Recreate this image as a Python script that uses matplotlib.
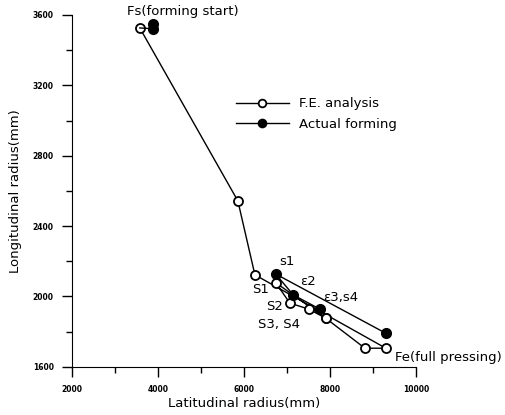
import matplotlib.pyplot as plt
from matplotlib.ticker import MultipleLocator

# F.E. analysis path (open circles)
fe_x = [3580, 5860, 6256, 9300, 8814, 7900, 6737, 7070, 7512, 7900]
fe_y = [3526, 2543, 2123, 1706, 1706, 1877, 2079, 1962, 1928, 1877]

# Actual forming path (filled circles)
act_x = [9300, 6737, 7147, 7767]
act_y = [1791, 2128, 2009, 1928]
# start points of the actual forming
act_start_x = [3880, 3880]
act_start_y = [3548, 3522]

labels = ["Fs(forming start)", "s1", "S1", "ɛ2", "S2", "ɛ3,s4", "S3, S4", "Fe(full pressing)"]
label_x = [4580, 6814, 6186, 7302, 6510, 7837, 6325, 9512]
label_y = [3617, 2197, 2037, 2083, 1941, 1992, 1839, 1655]

fig = plt.figure(figsize=(5.06, 4.15), dpi=100)
ax = fig.add_axes([0.142, 0.116, 0.680, 0.848])

ax.plot(fe_x, fe_y, color="black", lw=1.0, marker="o", ms=6.5,
        mfc="white", mec="black", mew=1.3, label="F.E. analysis")
ax.plot(act_x, act_y, color="black", lw=1.0, marker="o", ms=7,
        mfc="black", mec="black", label="Actual forming")
ax.plot([fe_x[0], act_start_x[1]], [fe_y[0], act_start_y[1]], color="black", lw=1.0)
ax.plot(act_start_x, act_start_y, ls="none", marker="o", ms=7, mfc="black", mec="black")

for t, x, y in zip(labels, label_x, label_y):
    ax.text(x, y, t, fontsize=9.5, ha="center" if t.startswith("Fs") else "left",
            va="center", clip_on=False)

ax.set_xlim(2000, 10000)
ax.set_ylim(1600, 3600)
ax.xaxis.set_major_locator(MultipleLocator(2000))
ax.xaxis.set_minor_locator(MultipleLocator(1000))
ax.yaxis.set_major_locator(MultipleLocator(400))
ax.yaxis.set_minor_locator(MultipleLocator(200))
ax.tick_params(which="major", direction="out", length=7, width=1, labelsize=5.5, pad=6)
ax.tick_params(which="minor", direction="out", length=4, width=1)
for lab in ax.get_xticklabels() + ax.get_yticklabels():
    lab.set_fontweight("bold")

ax.spines["top"].set_visible(False)
ax.spines["right"].set_visible(False)

ax.set_xlabel("Latitudinal radius(mm)", fontsize=9.5, labelpad=2)
ax.set_ylabel("Longitudinal radius(mm)", fontsize=9.5, labelpad=8)

ax.legend(loc="upper left", bbox_to_anchor=(0.442, 0.80), frameon=False,
          fontsize=9.5, handlelength=4.0, labelspacing=0.6, markerscale=0.85)

fig.savefig("out.png")
